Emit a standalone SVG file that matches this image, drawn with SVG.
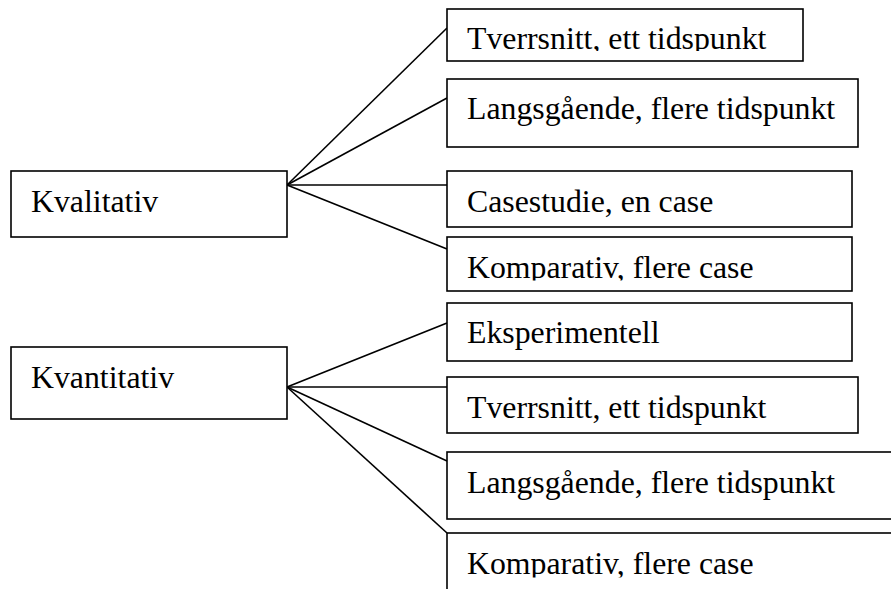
<svg xmlns="http://www.w3.org/2000/svg" width="891" height="589" viewBox="0 0 891 589">
  <style>
    .box { fill: #ffffff; stroke: #000000; stroke-width: 1.6; }
    .edge { stroke: #000000; stroke-width: 1.6; fill: none; }
    .label { font-family: "Liberation Serif", "Times New Roman", serif; font-size: 31.8px; fill: #000000; }
  </style>
  <defs>
    <!-- text areas whose lower line is cut by the inner margin of the box -->
    <clipPath id="clip-tverrsnitt-1"><rect x="447" y="9" width="356" height="42"/></clipPath>
    <clipPath id="clip-komparativ-1"><rect x="447" y="237" width="405" height="43.5"/></clipPath>
    <clipPath id="clip-komparativ-2"><rect x="447" y="533" width="450" height="44.5"/></clipPath>
  </defs>
  <rect width="891" height="589" fill="#ffffff"/>

  <g id="connectors">
    <line class="edge" x1="287" y1="185" x2="447" y2="28"/>
    <line class="edge" x1="287" y1="185" x2="447" y2="98"/>
    <line class="edge" x1="287" y1="185" x2="447" y2="185"/>
    <line class="edge" x1="287" y1="185" x2="447" y2="249"/>
    <line class="edge" x1="287" y1="387" x2="447" y2="323"/>
    <line class="edge" x1="287" y1="387" x2="447" y2="387"/>
    <line class="edge" x1="287" y1="387" x2="447" y2="461"/>
    <line class="edge" x1="287" y1="387" x2="447" y2="533"/>
  </g>

  <g id="kvalitativ">
    <rect class="box" x="11" y="171" width="276" height="66"/>
    <text class="label" x="31" y="212">Kvalitativ</text>
  </g>
  <g id="kvantitativ">
    <rect class="box" x="11" y="347" width="276" height="72"/>
    <text class="label" x="31" y="388">Kvantitativ</text>
  </g>

  <g id="tverrsnitt-1">
    <rect class="box" x="447" y="9" width="356" height="52"/>
    <text class="label" x="467" y="49" clip-path="url(#clip-tverrsnitt-1)">Tverrsnitt, ett tidspunkt</text>
  </g>
  <g id="langsgaende-1">
    <rect class="box" x="447" y="79" width="411" height="68"/>
    <text class="label" x="467" y="119">Langsgående, flere tidspunkt</text>
  </g>
  <g id="casestudie">
    <rect class="box" x="447" y="171" width="405" height="56"/>
    <text class="label" x="467" y="211.5">Casestudie, en case</text>
  </g>
  <g id="komparativ-1">
    <rect class="box" x="447" y="237" width="405" height="54"/>
    <text class="label" x="467" y="278" clip-path="url(#clip-komparativ-1)">Komparativ, flere case</text>
  </g>
  <g id="eksperimentell">
    <rect class="box" x="447" y="303" width="405" height="58"/>
    <text class="label" x="467" y="343">Eksperimentell</text>
  </g>
  <g id="tverrsnitt-2">
    <rect class="box" x="447" y="377" width="411" height="56"/>
    <text class="label" x="467" y="418">Tverrsnitt, ett tidspunkt</text>
  </g>
  <g id="langsgaende-2">
    <rect class="box" x="447" y="452" width="460" height="67"/>
    <text class="label" x="467" y="493">Langsgående, flere tidspunkt</text>
  </g>
  <g id="komparativ-2">
    <rect class="box" x="447" y="533" width="460" height="80"/>
    <text class="label" x="467" y="574" clip-path="url(#clip-komparativ-2)">Komparativ, flere case</text>
  </g>
</svg>
